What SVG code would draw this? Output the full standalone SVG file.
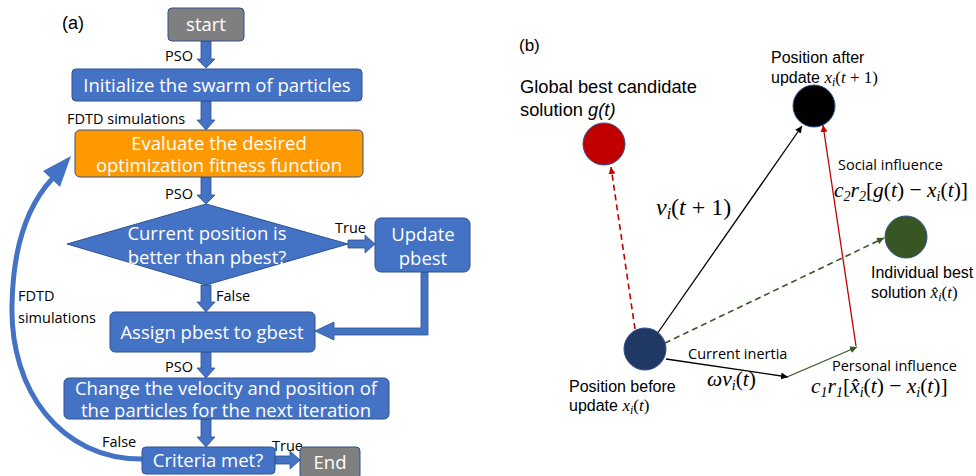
<svg xmlns="http://www.w3.org/2000/svg" width="976" height="476" viewBox="0 0 976 476">
<style>
.box{fill:#4472c4;stroke:#2f528f;stroke-width:1}
.gray{fill:#7f7f7f;stroke:#2f528f;stroke-width:1}
.org{fill:#ff9900;stroke:#2f528f;stroke-width:1}
.bt{font-family:"Open Sans","Noto Sans",sans-serif;fill:#fff;text-anchor:middle;font-size:18.5px}
.lb{font-family:"Open Sans","Noto Sans",sans-serif;fill:#000;font-size:14.5px}
.ar{font-family:"Liberation Sans",Arial,sans-serif;fill:#000}
.m{font-family:"Liberation Serif","DejaVu Serif",serif;fill:#000;font-style:italic}
.up{font-style:normal}
.blk{fill:#4472c4;stroke:#2f528f;stroke-width:0.8}
</style>
<defs>
<marker id="mk" viewBox="0 0 10 10" refX="10" refY="5" markerWidth="7" markerHeight="7" orient="auto" markerUnits="userSpaceOnUse"><path d="M0,0 L10,5 L0,10 z" fill="#000"/></marker>
<marker id="mr" viewBox="0 0 10 10" refX="10" refY="5" markerWidth="7" markerHeight="7" orient="auto" markerUnits="userSpaceOnUse"><path d="M0,0 L10,5 L0,10 z" fill="#c00000"/></marker>
<marker id="mg" viewBox="0 0 10 10" refX="10" refY="5" markerWidth="7" markerHeight="7" orient="auto" markerUnits="userSpaceOnUse"><path d="M0,0 L10,5 L0,10 z" fill="#375623"/></marker>
</defs>
<rect width="976" height="476" fill="#fff"/>
<text x="62" y="29" font-family="Liberation Sans,Arial,sans-serif" font-size="18">(a)</text>
<text x="519" y="51" font-family="Liberation Sans,Arial,sans-serif" font-size="17">(b)</text>

<g id="connectors">
 <polygon class="blk" points="201,41 211,41 211,59 215,59 206,68 197,59 201,59"/>
 <polygon class="blk" points="201,101 211,101 211,120 215,120 206,130 197,120 201,120"/>
 <polygon class="blk" points="201,177 211,177 211,195 215,195 206,204 197,195 201,195"/>
 <polygon class="blk" points="201,285 211,285 211,302 215,302 206,312 197,302 201,302"/>
 <polygon class="blk" points="201,352 211,352 211,368 215,368 206,378 197,368 201,368"/>
 <polygon class="blk" points="201,419 211,419 211,437 215,437 206,447 197,437 201,437"/>
 <polygon class="blk" points="348,240 365,240 365,235 375,244 365,253 365,248 348,248"/>
 <polygon class="blk" points="275,456 290,456 290,451 300,460 290,469 290,464 275,464"/>
 <polygon class="blk" points="421,272 428,272 428,335 334,335 334,340 315,331 334,322 334,328 421,328"/>
 <path d="M142,459 C 60,459 10,390 12,305 C 13,245 28,205 52,179" fill="none" stroke="#4472c4" stroke-width="5"/>
 <polygon points="71,156 43,171 60,187" fill="#4472c4"/>
 <text class="lb" x="165" y="61">PSO</text>
 <text class="lb" x="67" y="124">FDTD simulations</text>
 <text class="lb" x="165" y="199">PSO</text>
 <text class="lb" x="335" y="233">True</text>
 <text class="lb" x="216" y="301">False</text>
 <text class="lb" x="165" y="372">PSO</text>
 <text class="lb" x="102" y="447">False</text>
 <text class="lb" x="272" y="451">True</text>
 <text class="lb" x="18" y="301">FDTD</text>
 <text class="lb" x="18" y="323">simulations</text>

 <line x1="635" y1="329" x2="611" y2="167" stroke="#c00000" stroke-width="1.6" stroke-dasharray="6,4" marker-end="url(#mr)"/>
 <line x1="657" y1="334" x2="802" y2="126" stroke="#000" stroke-width="1.3" marker-end="url(#mk)"/>
 <line x1="665" y1="343" x2="884" y2="238" stroke="#375623" stroke-width="1.6" stroke-dasharray="6,4" marker-end="url(#mg)"/>
 <line x1="666" y1="359" x2="788" y2="377" stroke="#000" stroke-width="1.3" marker-end="url(#mk)"/>
 <line x1="787" y1="377" x2="857" y2="347" stroke="#375623" stroke-width="1.3" marker-end="url(#mg)"/>
 <line x1="856" y1="346" x2="823" y2="125" stroke="#c00000" stroke-width="1.3" marker-end="url(#mr)"/>
</g>

<g id="start"><rect class="gray" x="168" y="8" width="76" height="33" rx="4"/><text class="bt" x="206" y="31">start</text></g>
<g id="init"><rect class="box" x="72" y="69" width="290" height="32" rx="4"/><text class="bt" x="217" y="92">Initialize the swarm of particles</text></g>
<g id="evaluate"><rect class="org" x="75" y="130" width="288" height="47" rx="5"/><text class="bt" x="219" y="150">Evaluate the desired</text><text class="bt" x="219" y="172">optimization fitness function</text></g>
<g id="decision"><polygon class="box" points="206,204 348,244 206,285 67,244"/><text class="bt" x="207" y="240">Current position is</text><text class="bt" x="207" y="264">better than pbest?</text></g>
<g id="update"><rect class="box" x="375" y="218" width="95" height="54" rx="6"/><text class="bt" x="423" y="241">Update</text><text class="bt" x="423" y="265">pbest</text></g>
<g id="assign"><rect class="box" x="110" y="312" width="205" height="40" rx="5"/><text class="bt" x="212" y="339">Assign pbest to gbest</text></g>
<g id="change"><rect class="box" x="64" y="378" width="325" height="41" rx="5"/><text class="bt" x="226" y="395">Change the velocity and position of</text><text class="bt" x="226" y="417">the particles for the next iteration</text></g>
<g id="criteria"><rect class="box" x="142" y="447" width="133" height="27" rx="4"/><text class="bt" x="208" y="467">Criteria met?</text></g>
<g id="end"><rect class="gray" x="300" y="447" width="60" height="32" rx="4"/><text class="bt" x="330" y="469">End</text></g>

<g id="global-best"><circle cx="604" cy="144" r="21" fill="#c00000" stroke="#2f528f" stroke-width="1"/>
<text class="ar" x="520" y="93" font-size="18.3">Global best candidate</text><text class="ar" x="520" y="116" font-size="18.3">solution <tspan font-style="italic">g(t)</tspan></text></g>
<g id="after"><circle cx="814" cy="106" r="21" fill="#000" stroke="#2f528f" stroke-width="1"/>
<text class="ar" x="771" y="63" font-size="16">Position after</text><text class="ar" x="771" y="83" font-size="16">update <tspan class="m" font-size="17">x<tspan font-size="12" dy="3">i</tspan><tspan class="up" dy="-3">(</tspan>t<tspan class="up"> + 1)</tspan></tspan></text></g>
<g id="individual-best"><circle cx="906" cy="237" r="21" fill="#375623" stroke="#2f528f" stroke-width="1"/>
<text class="ar" x="871" y="278" font-size="16">Individual best</text><text class="ar" x="871" y="298" font-size="16">solution <tspan class="m" font-size="17">x̂<tspan font-size="12" dy="3">i</tspan><tspan class="up" dy="-3">(</tspan>t<tspan class="up">)</tspan></tspan></text></g>
<g id="before"><circle cx="645" cy="349" r="21" fill="#1f3864" stroke="#2f528f" stroke-width="1"/>
<text class="ar" x="569" y="392" font-size="16">Position before</text><text class="ar" x="569" y="411" font-size="16">update <tspan class="m" font-size="17">x<tspan font-size="12" dy="3">i</tspan><tspan class="up" dy="-3">(</tspan>t<tspan class="up">)</tspan></tspan></text></g>

<g id="labels-b">
<text class="m" x="656" y="215" font-size="24">v<tspan font-size="16" dy="4">i</tspan><tspan class="up" dy="-4">(</tspan>t<tspan class="up"> + 1)</tspan></text>
<text class="lb" x="838" y="170">Social influence</text>
<text class="m" x="834" y="197" font-size="21.5">c<tspan font-size="14" dy="4">2</tspan><tspan dy="-4">r</tspan><tspan font-size="14" dy="4">2</tspan><tspan class="up" dy="-4">[</tspan>g<tspan class="up">(</tspan>t<tspan class="up">) − </tspan>x<tspan font-size="14" dy="4">i</tspan><tspan class="up" dy="-4">(</tspan>t<tspan class="up">)]</tspan></text>
<text class="lb" x="688" y="359">Current inertia</text>
<text class="m" x="707" y="386" font-size="21.5">ωv<tspan font-size="14" dy="4">i</tspan><tspan class="up" dy="-4">(</tspan>t<tspan class="up">)</tspan></text>
<text class="lb" x="832" y="371">Personal influence</text>
<text class="m" x="811" y="393" font-size="21.5">c<tspan font-size="14" dy="4">1</tspan><tspan dy="-4">r</tspan><tspan font-size="14" dy="4">1</tspan><tspan class="up" dy="-4">[</tspan>x̂<tspan font-size="14" dy="4">i</tspan><tspan class="up" dy="-4">(</tspan>t<tspan class="up">) − </tspan>x<tspan font-size="14" dy="4">i</tspan><tspan class="up" dy="-4">(</tspan>t<tspan class="up">)]</tspan></text>
</g>
</svg>
